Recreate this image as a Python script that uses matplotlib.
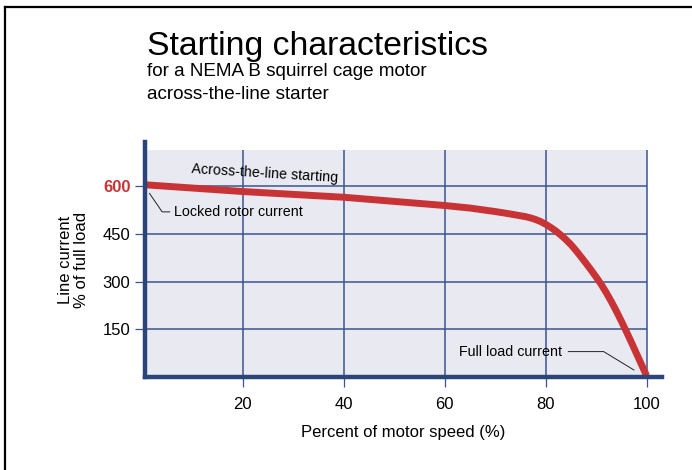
import matplotlib
matplotlib.use("Agg")
import matplotlib.pyplot as plt
from matplotlib.patches import Rectangle
from matplotlib.lines import Line2D

plt.rcParams['font.family'] = ['Liberation Sans', 'DejaVu Sans']

# values
speed = [0, 10, 20, 30, 40, 50, 60, 65, 70, 72, 74, 76, 77, 78, 79, 80, 81, 82, 83, 84, 85, 86,
         87, 88, 89, 90, 91, 92, 93, 94, 95, 96, 97, 98, 99, 100]
current = [606, 595, 584, 575, 566, 553, 540, 532, 521, 516, 510.5, 505, 501, 496, 489.5, 481,
           471, 460, 447, 433, 417, 398.5, 378.5, 358, 337, 315, 292, 266, 238, 208, 176, 143,
           109, 74, 39, 4]
x_ticks = [20, 40, 60, 80, 100]
y_ticks = [150, 300, 450, 600]

navy = '#2b4579'
grid_c = '#3a5590'
red = '#c83436'

fig = plt.figure(figsize=(6.92, 4.70), dpi=100)
W, H = 692, 470

# frame around the whole picture (left and top edges only visible)
fig.add_artist(Line2D([5 / W, 5 / W], [0, 1 - 7 / H], color='black', lw=1.6))
fig.add_artist(Line2D([5 / W, 1], [1 - 7 / H, 1 - 7 / H], color='black', lw=1.6))

ax = fig.add_axes([145 / W, (H - 377) / H, 516.7 / W, 235 / H])
ax.set_facecolor('none')
ax.set_xlim(0.6, 103)
ax.set_ylim(0, 740)

ax.add_patch(Rectangle((0.6, 0), 99.4, 715, facecolor='#e9eaf1', edgecolor='none', zorder=0))
ax.vlines(x_ticks, 0, 715, color=grid_c, lw=1.1, zorder=1)
ax.hlines(y_ticks, 0.6, 100, color=grid_c, lw=1.1, zorder=1)

ax.plot(speed, current, color=red, lw=5, solid_capstyle='butt', solid_joinstyle='round', zorder=3)

for s in ['top', 'right']:
    ax.spines[s].set_visible(False)
for s in ['left', 'bottom']:
    ax.spines[s].set_color(navy)
    ax.spines[s].set_linewidth(3.2)
    ax.spines[s].set_zorder(4)

ax.set_xticks(x_ticks)
ax.set_yticks(y_ticks)
ax.tick_params(axis='both', direction='out', length=7.5, width=0.9, color=grid_c,
               labelsize=12, pad=3)
ax.tick_params(axis='x', pad=7)
for lab in ax.get_yticklabels():
    if lab.get_text() == '600':
        lab.set_color(red)
        lab.set_fontweight('bold')

ax.set_xlabel('Percent of motor speed (%)', fontsize=12, labelpad=9)
ax.set_ylabel('Line current\n% of full load', fontsize=12, labelpad=10, linespacing=1.05)

# annotations
ax.text(9.8, 604, 'Across-the-line starting', fontsize=10.3, rotation=-3.5,
        ha='left', va='bottom', zorder=5)
ax.plot([1.5, 4.0, 5.5], [578, 520, 520], color='#222222', lw=0.7, zorder=5)
ax.text(6.3, 520, 'Locked rotor current', fontsize=10.3, ha='left', va='center', zorder=5)
ax.plot([84.5, 91.5, 97.5], [80, 80, 22], color='#222222', lw=0.7, zorder=5)
ax.text(83.3, 80, 'Full load current', fontsize=10.3, ha='right', va='center', zorder=5)

# titles
fig.text(147 / W, 1 - 55 / H, 'Starting characteristics', fontsize=24.3, ha='left', va='baseline')
fig.text(147 / W, 1 - 76 / H, 'for a NEMA B squirrel cage motor', fontsize=13.6, ha='left', va='baseline')
fig.text(147 / W, 1 - 99 / H, 'across-the-line starter', fontsize=13.6, ha='left', va='baseline')

fig.savefig('out.png', dpi=100)
